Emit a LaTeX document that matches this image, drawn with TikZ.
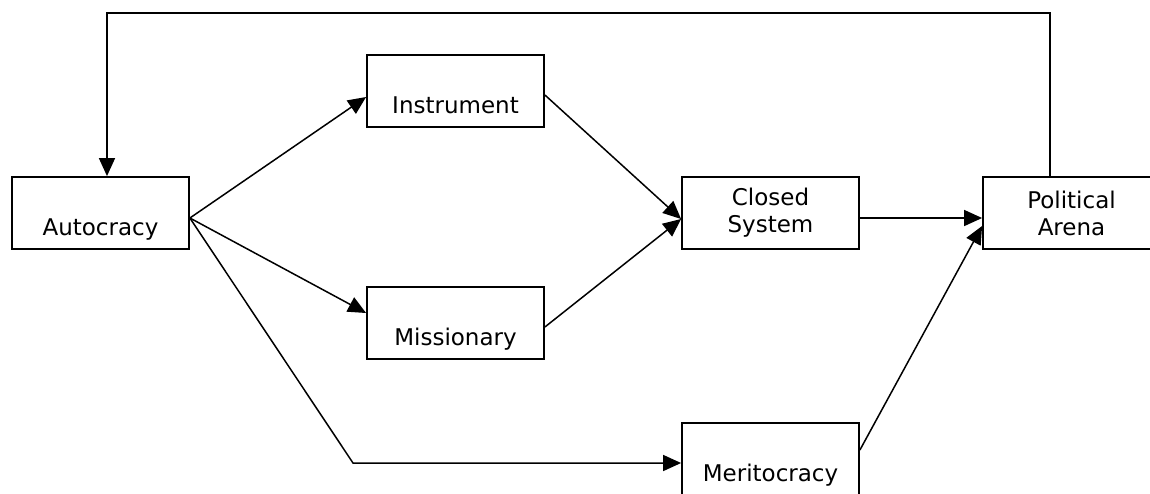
\documentclass[tikz,border=0pt]{standalone}
\usepackage{fontspec}
\setmainfont{DejaVu Sans}
\usetikzlibrary{arrows.meta}
\begin{document}
\begin{tikzpicture}[x=1pt,y=-1pt,
  box/.style={draw, line width=1.8pt, rectangle, minimum width=177pt,
    minimum height=72pt, inner sep=2pt, align=center,
    font=\fontsize{23}{27}\selectfont},
  lowbox/.style={box, text height=46pt, text depth=2pt},
  flow/.style={line width=1.5pt, -{Triangle[length=18pt,width=16pt]}}]
  \useasboundingbox (0,0) rectangle (1150,493);

  % boxes
  \node[lowbox] (auto)   at (100.5,213) {Autocracy};
  \node[lowbox] (instr)  at (455.5,91)  {Instrument};
  \node[lowbox] (miss)   at (455.5,323) {Missionary};
  \node[box]    (closed) at (770.5,213) {Closed\\System};
  \node[box]    (polit)  at (1071.5,213) {Political\\Arena};
  \node[lowbox] (merit)  at (770.5,459) {Meritocracy};

  % routing points
  \coordinate (aout) at ([yshift=-5pt]auto.east);
  \coordinate (bend) at (353,463);
  \coordinate (tl)   at (107,13);

  % connectors
  \draw[flow] (aout) -- ([yshift=-6pt]instr.west);
  \draw[flow] (aout) -- ([yshift=10pt]miss.west);
  \draw[flow] (aout) -- (bend) -- (bend -| merit.west);
  \draw[flow] ([yshift=-4pt]instr.east) -- ([yshift=-6pt]closed.west);
  \draw[flow] ([yshift=-4pt]miss.east) -- ([yshift=-6pt]closed.west);
  \draw[flow] ([yshift=-5pt]closed.east) -- ([yshift=-5pt]polit.west);
  \draw[flow] ([yshift=9pt]merit.east) -- ([yshift=-13pt]polit.west);
  \draw[flow] ([xshift=-21.5pt]polit.north) |- (tl) -- ([xshift=6.5pt]auto.north);
\end{tikzpicture}
\end{document}
